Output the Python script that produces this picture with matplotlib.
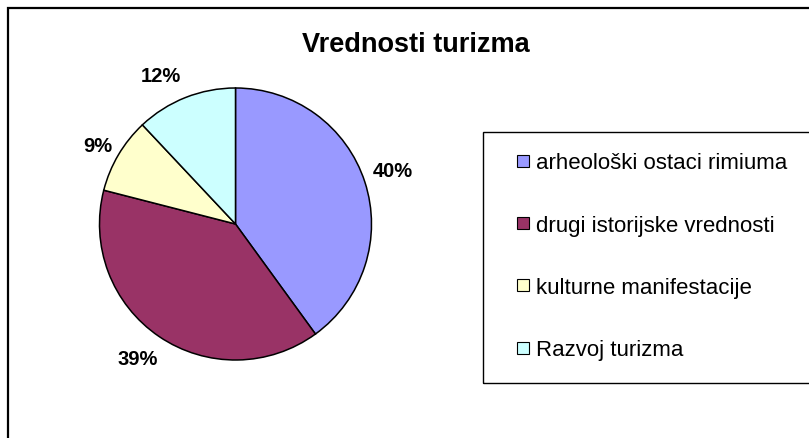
import matplotlib
matplotlib.use("Agg")
import matplotlib.pyplot as plt
from matplotlib.patches import Rectangle

# data
categories = ["arheološki ostaci rimiuma", "drugi istorijske vrednosti",
              "kulturne manifestacije", "Razvoj turizma"]
shares = [40, 39, 9, 12]
colors = ["#9999FF", "#993366", "#FFFFCC", "#CCFFFF"]
# label positions in pie-radius units (Excel placement)
label_pos = [(1.16, 0.39), (-0.72, -0.99), (-1.01, 0.58), (-0.55, 1.09)]

W, H = 809, 439
fig = plt.figure(figsize=(W / 100, H / 100), dpi=100)
plt.rcParams['font.family'] = ['Liberation Sans', 'DejaVu Sans']

# outer chart border
fig.patches.append(Rectangle((8 / W, -0.05), 1.1, 1 - 9 / H + 0.05, transform=fig.transFigure,
                             fill=False, edgecolor="black", linewidth=1.6))

# pie
cx, cy, r = 235.5, 225, 136
ax = fig.add_axes([(cx - r) / W, (H - cy - r) / H, 2 * r / W, 2 * r / H])
wedges, _ = ax.pie(shares, colors=colors, startangle=90, counterclock=False, radius=1,
                   wedgeprops=dict(edgecolor="black", linewidth=1.1))
ax.set_xlim(-1, 1)
ax.set_ylim(-1, 1)
ax.set_aspect("equal")
ax.axis("off")
for s, (x, y) in zip(shares, label_pos):
    ax.text(x, y, f"{s}%", ha="center", va="center", fontsize=14.5, fontweight="bold", clip_on=False)

fig.text(416 / W, 1 - 45 / H, "Vrednosti turizma", ha="center", va="center",
         fontsize=19.5, fontweight="bold")

# legend box
fig.patches.append(Rectangle((483 / W, 1 - 384 / H), 0.5, (384 - 133) / H, transform=fig.transFigure,
                             fill=False, edgecolor="black", linewidth=1.0))
leg = fig.legend(wedges, categories, loc="upper left", bbox_to_anchor=(512.5 / W, 1 - 149 / H),
                 frameon=False, fontsize=16, handlelength=0.54, handleheight=0.45,
                 handletextpad=0.32, labelspacing=1.86, borderpad=0.2, borderaxespad=0)
for h in leg.legend_handles:
    h.set_linewidth(0.8)

fig.savefig("out.png", dpi=100)
